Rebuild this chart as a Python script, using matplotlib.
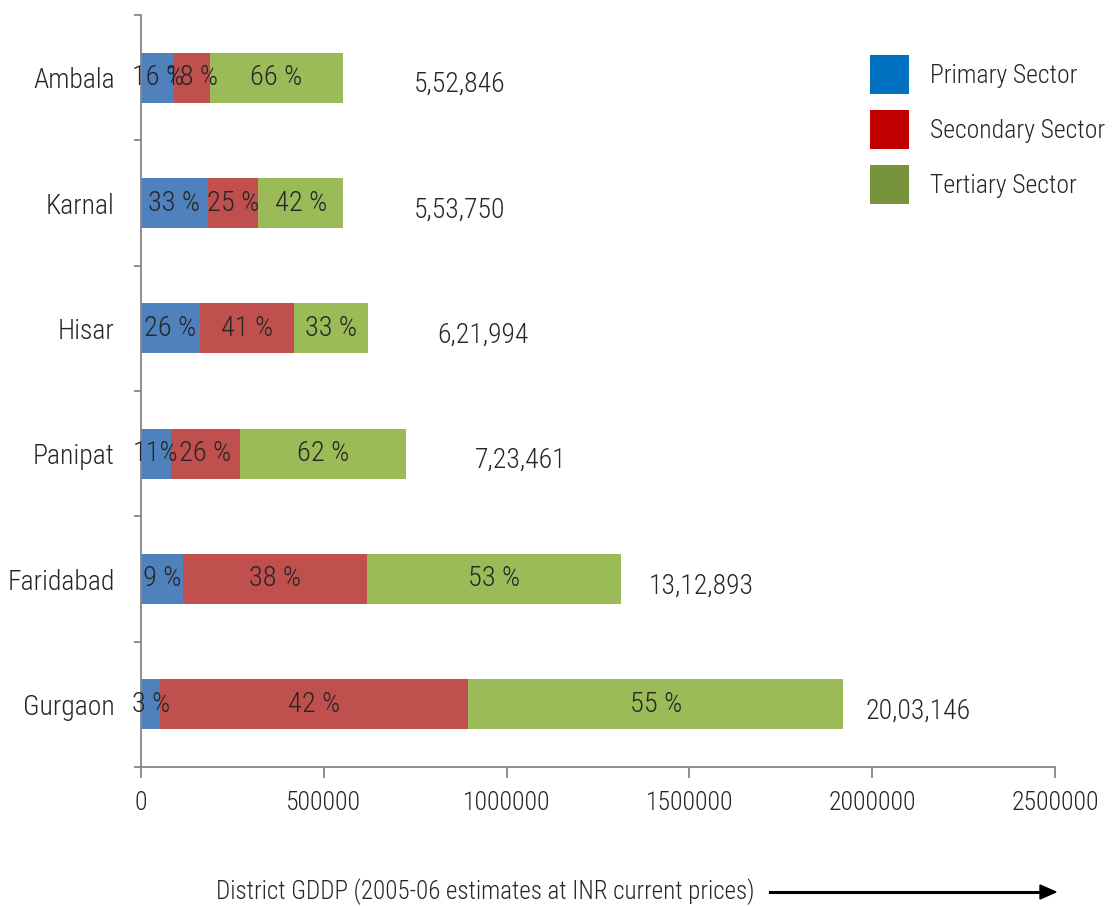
import matplotlib.pyplot as plt
from matplotlib.patches import Patch
from matplotlib import font_manager
import numpy as np

# pick a narrow font if one is installed
installed = {f.name for f in font_manager.fontManager.ttflist}
candidates = ['Roboto Condensed', 'Liberation Sans Narrow', 'Open Sans Condensed', 'Roboto', 'Liberation Sans']
font = next((c for c in candidates if c in installed), 'DejaVu Sans')
condensed = font in ('Roboto Condensed', 'Liberation Sans Narrow', 'Open Sans Condensed')
plt.rcParams['font.family'] = [font, 'DejaVu Sans']
plt.rcParams['font.weight'] = 'light'
k = 1.0 if condensed else 0.82
fs = 20 * k

districts = ['Ambala', 'Karnal', 'Hisar', 'Panipat', 'Faridabad', 'Gurgaon']
primary = [91000, 181900, 161400, 82000, 113800, 52800]
secondary = [97700, 138100, 257100, 188800, 504400, 842500]
tertiary = [363800, 233750, 203500, 452700, 694700, 1025000]
totals = ['5,52,846', '5,53,750', '6,21,994', '7,23,461', '13,12,893', '20,03,146']
pct_primary = ['16 %', '33 %', '26 %', '11%', '9 %', '3 %']
pct_secondary = ['18 %', '25 %', '41 %', '26 %', '38 %', '42 %']
pct_tertiary = ['66 %', '42 %', '33 %', '62 %', '53 %', '55 %']
sectors = ['Primary Sector', 'Secondary Sector', 'Tertiary Sector']

bar_colors = ['#4F81BD', '#C0504D', '#9BBB59']
legend_colors = ['#0070C0', '#C00000', '#77933C']
text_color = '#262626'
# horizontal offset (px) of the total label from the bar end
total_offsets = [71, 70, 69, 69, 28, 22]

fig = plt.figure(figsize=(11.17, 9.06), dpi=100)
ax = fig.add_axes([141 / 1117, 1 - 767 / 906, (1055 - 141) / 1117, (767 - 15) / 906])

y = np.arange(len(districts))
h = 0.4
left = np.zeros(len(districts))
for vals, labels, col in zip([primary, secondary, tertiary],
                             [pct_primary, pct_secondary, pct_tertiary], bar_colors):
    bars = ax.barh(y, vals, height=h, left=left, color=col, edgecolor='none')
    for i, b in enumerate(bars):
        ax.text(b.get_x() + b.get_width() / 2, y[i], labels[i], ha='center', va='center',
                fontsize=20.5 * k, color=text_color)
    left = left + np.array(vals)

for i in range(len(districts)):
    ax.annotate(totals[i], xy=(left[i], y[i]), xytext=(total_offsets[i] * 0.72, -5),
                textcoords='offset points', ha='left', va='center',
                fontsize=fs, color=text_color)

ax.set_xlim(0, 2500000)
ax.set_ylim(len(districts) - 0.5, -0.5)
ax.set_xticks(np.arange(0, 2500001, 500000))
ax.set_xticklabels([str(v) for v in range(0, 2500001, 500000)], fontsize=18.5 * k, color=text_color)
ax.set_yticks(np.arange(-0.5, len(districts)))
ax.set_yticklabels([])
ax.set_yticks(y, minor=True)
ax.set_yticklabels(districts, minor=True, fontsize=fs, color=text_color)
ax.tick_params(axis='y', which='major', direction='out', length=5, width=1.3, color='#868686')
ax.tick_params(axis='y', which='minor', length=0, pad=19)
ax.tick_params(axis='x', direction='out', length=8, width=1.3, color='#868686', pad=9)

for s in ['top', 'right']:
    ax.spines[s].set_visible(False)
for s in ['left', 'bottom']:
    ax.spines[s].set_color('#868686')
    ax.spines[s].set_linewidth(1.3)

lfs = 18.5 * k
hh = (28 / lfs - 0.245) / 0.65
handles = [Patch(facecolor=c, edgecolor='none') for c in legend_colors]
ax.legend(handles, sectors, loc='upper left', bbox_to_anchor=(870 / 1117, 1 - 55 / 906),
          bbox_transform=fig.transFigure, frameon=False, borderpad=0, borderaxespad=0,
          fontsize=lfs, handlelength=28 / lfs, handleheight=hh,
          labelspacing=0.63, handletextpad=15 / lfs, labelcolor=text_color)

fig.text(485 / 1117, 1 - 892 / 906, 'District GDDP (2005-06 estimates at INR current prices)',
         ha='center', va='center', fontsize=18 * k, color=text_color)
fig.add_artist(plt.Line2D([770 / 1117, 1040 / 1117], [1 - 892 / 906] * 2, color='black', lw=2.2))
fig.patches.append(plt.Polygon([[1040 / 1117, 1 - 885 / 906], [1056 / 1117, 1 - 892 / 906],
                                [1040 / 1117, 1 - 899 / 906]], closed=True, color='black',
                               transform=fig.transFigure, figure=fig))

fig.savefig('out.png', dpi=100)
